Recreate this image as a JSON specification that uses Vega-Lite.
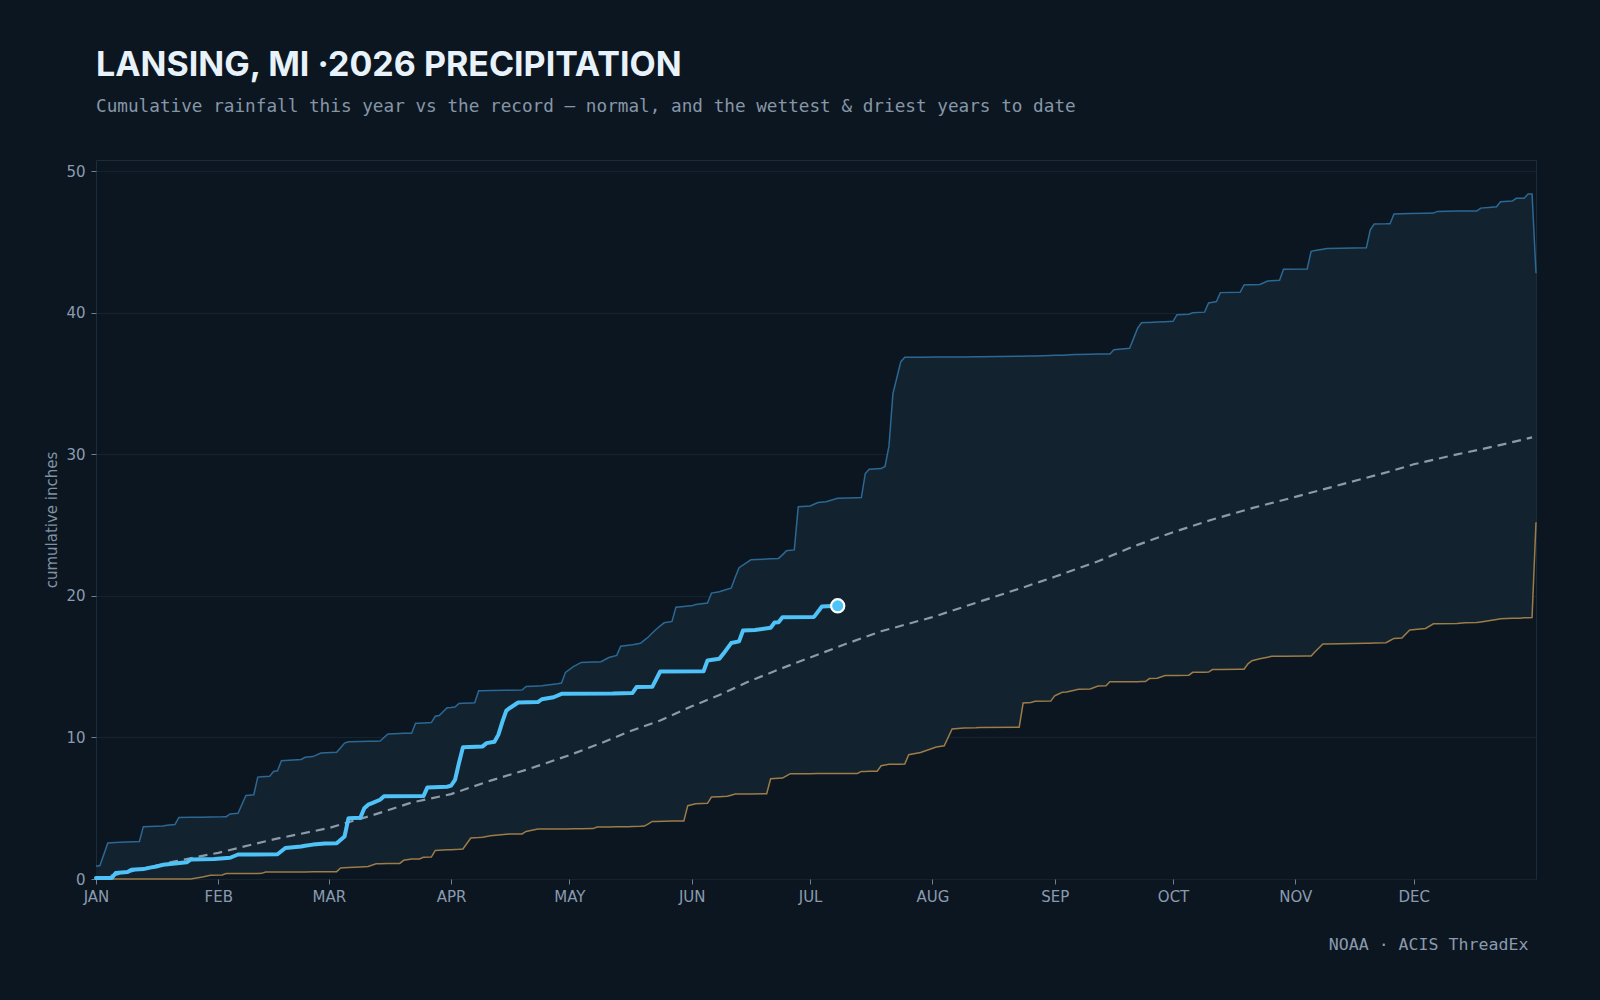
{
  "$schema": "https://vega.github.io/schema/vega-lite/v6.json",
  "autosize": "none",
  "width": 1440,
  "height": 719,
  "padding": {"left": 96, "top": 160, "right": 64, "bottom": 121},
  "background": "#0c1620",
  "title": {
    "text": "LANSING, MI ·2026 PRECIPITATION",
    "subtitle": "Cumulative rainfall this year vs the record — normal, and the wettest & driest years to date",
    "anchor": "start",
    "frame": "group",
    "offset": 44,
    "font": "Inter",
    "fontSize": 34,
    "fontWeight": 700,
    "color": "#e8f2fa",
    "subtitleFont": "DejaVu Sans Mono",
    "subtitleFontSize": 17.7,
    "subtitleColor": "#8696a8",
    "subtitlePadding": 15
  },
  "datasets": {
    "band": [
      {"day":0,"wet":0.9,"dry":0},{"day":1,"wet":0.95,"dry":0},{"day":3,"wet":2.55,"dry":0},{"day":6,"wet":2.6,"dry":0},
      {"day":11,"wet":2.65,"dry":0},{"day":12,"wet":3.7,"dry":0},{"day":17,"wet":3.75,"dry":0},{"day":18,"wet":3.8,"dry":0},
      {"day":20,"wet":3.85,"dry":0},{"day":21,"wet":4.35,"dry":0},{"day":24,"wet":4.36,"dry":0},{"day":27,"wet":4.37,"dry":0.14},
      {"day":29,"wet":4.38,"dry":0.26},{"day":32,"wet":4.39,"dry":0.28},{"day":33,"wet":4.4,"dry":0.38},{"day":34,"wet":4.6,"dry":0.38},
      {"day":36,"wet":4.65,"dry":0.38},{"day":38,"wet":5.9,"dry":0.39},{"day":40,"wet":5.95,"dry":0.39},{"day":41,"wet":7.2,"dry":0.39},
      {"day":42,"wet":7.22,"dry":0.4},{"day":43,"wet":7.24,"dry":0.5},{"day":44,"wet":7.25,"dry":0.5},{"day":45,"wet":7.6,"dry":0.5},
      {"day":46,"wet":7.65,"dry":0.5},{"day":47,"wet":8.35,"dry":0.5},{"day":52,"wet":8.45,"dry":0.5},{"day":53,"wet":8.6,"dry":0.5},
      {"day":55,"wet":8.65,"dry":0.51},{"day":57,"wet":8.9,"dry":0.51},{"day":61,"wet":8.95,"dry":0.52},{"day":62,"wet":9.27,"dry":0.78},
      {"day":63,"wet":9.6,"dry":0.8},{"day":64,"wet":9.7,"dry":0.81},{"day":67,"wet":9.72,"dry":0.85},{"day":69,"wet":9.73,"dry":0.88},
      {"day":71,"wet":9.74,"dry":1.08},{"day":72,"wet":9.75,"dry":1.08},{"day":74,"wet":10.25,"dry":1.09},{"day":77,"wet":10.28,"dry":1.1},
      {"day":78,"wet":10.29,"dry":1.32},{"day":80,"wet":10.3,"dry":1.41},{"day":81,"wet":11.0,"dry":1.41},{"day":82,"wet":11.01,"dry":1.42},
      {"day":83,"wet":11.03,"dry":1.53},{"day":85,"wet":11.05,"dry":1.55},{"day":86,"wet":11.5,"dry":2.02},{"day":87,"wet":11.55,"dry":2.03},
      {"day":89,"wet":12.1,"dry":2.06},{"day":90,"wet":12.12,"dry":2.07},{"day":91,"wet":12.15,"dry":2.09},{"day":92,"wet":12.4,"dry":2.1},
      {"day":93,"wet":12.41,"dry":2.12},{"day":95,"wet":12.44,"dry":2.9},{"day":96,"wet":12.45,"dry":2.92},{"day":97,"wet":13.3,"dry":2.93},
      {"day":98,"wet":13.3,"dry":2.95},{"day":100,"wet":13.31,"dry":3.06},{"day":104,"wet":13.33,"dry":3.17},{"day":108,"wet":13.35,"dry":3.18},
      {"day":109,"wet":13.6,"dry":3.36},{"day":112,"wet":13.64,"dry":3.53},{"day":113,"wet":13.65,"dry":3.53},{"day":117,"wet":13.8,"dry":3.54},
      {"day":118,"wet":13.85,"dry":3.54},{"day":119,"wet":14.6,"dry":3.54},{"day":121,"wet":15.0,"dry":3.55},{"day":123,"wet":15.3,"dry":3.55},
      {"day":126,"wet":15.33,"dry":3.56},{"day":127,"wet":15.34,"dry":3.67},{"day":128,"wet":15.35,"dry":3.67},{"day":130,"wet":15.65,"dry":3.68},
      {"day":132,"wet":15.8,"dry":3.69},{"day":133,"wet":16.45,"dry":3.69},{"day":135,"wet":16.52,"dry":3.7},{"day":136,"wet":16.55,"dry":3.71},
      {"day":138,"wet":16.65,"dry":3.72},{"day":139,"wet":16.88,"dry":3.74},{"day":140,"wet":17.1,"dry":3.9},{"day":141,"wet":17.38,"dry":4.07},
      {"day":142,"wet":17.65,"dry":4.07},{"day":144,"wet":18.1,"dry":4.08},{"day":146,"wet":18.2,"dry":4.09},{"day":147,"wet":19.2,"dry":4.09},
      {"day":149,"wet":19.25,"dry":4.1},{"day":150,"wet":19.28,"dry":5.18},{"day":151,"wet":19.3,"dry":5.25},{"day":152,"wet":19.4,"dry":5.32},
      {"day":155,"wet":19.5,"dry":5.35},{"day":156,"wet":20.2,"dry":5.79},{"day":158,"wet":20.3,"dry":5.81},{"day":160,"wet":20.47,"dry":5.84},
      {"day":161,"wet":20.55,"dry":5.92},{"day":162,"wet":21.3,"dry":6.0},{"day":163,"wet":22.0,"dry":6.0},{"day":166,"wet":22.55,"dry":6.01},
      {"day":170,"wet":22.61,"dry":6.02},{"day":171,"wet":22.62,"dry":7.08},{"day":173,"wet":22.65,"dry":7.11},{"day":174,"wet":22.9,"dry":7.13},
      {"day":175,"wet":23.2,"dry":7.29},{"day":176,"wet":23.22,"dry":7.44},{"day":177,"wet":23.25,"dry":7.44},{"day":178,"wet":26.3,"dry":7.44},
      {"day":181,"wet":26.35,"dry":7.44},{"day":183,"wet":26.6,"dry":7.45},{"day":185,"wet":26.65,"dry":7.45},{"day":188,"wet":26.9,"dry":7.45},
      {"day":193,"wet":26.94,"dry":7.46},{"day":194,"wet":26.95,"dry":7.6},{"day":195,"wet":28.65,"dry":7.6},{"day":196,"wet":28.95,"dry":7.61},
      {"day":198,"wet":28.98,"dry":7.62},{"day":199,"wet":29.0,"dry":8.0},{"day":200,"wet":29.15,"dry":8.05},{"day":201,"wet":30.6,"dry":8.1},
      {"day":202,"wet":34.3,"dry":8.1},{"day":204,"wet":36.55,"dry":8.11},{"day":205,"wet":36.86,"dry":8.12},{"day":206,"wet":36.86,"dry":8.78},
      {"day":209,"wet":36.87,"dry":8.94},{"day":213,"wet":36.88,"dry":9.32},{"day":215,"wet":36.88,"dry":9.41},{"day":217,"wet":36.89,"dry":10.6},
      {"day":220,"wet":36.89,"dry":10.66},{"day":223,"wet":36.9,"dry":10.68},{"day":224,"wet":36.9,"dry":10.7},{"day":234,"wet":36.94,"dry":10.72},
      {"day":235,"wet":36.94,"dry":12.43},{"day":236,"wet":36.95,"dry":12.45},{"day":237,"wet":36.96,"dry":12.47},{"day":238,"wet":36.96,"dry":12.55},
      {"day":242,"wet":36.99,"dry":12.57},{"day":243,"wet":37.0,"dry":12.94},{"day":244,"wet":37.0,"dry":13.07},{"day":245,"wet":37.01,"dry":13.2},
      {"day":246,"wet":37.03,"dry":13.22},{"day":248,"wet":37.06,"dry":13.34},{"day":249,"wet":37.06,"dry":13.41},{"day":252,"wet":37.08,"dry":13.43},
      {"day":254,"wet":37.09,"dry":13.63},{"day":256,"wet":37.09,"dry":13.65},{"day":257,"wet":37.1,"dry":13.93},{"day":258,"wet":37.4,"dry":13.93},
      {"day":262,"wet":37.5,"dry":13.94},{"day":264,"wet":38.9,"dry":13.94},{"day":265,"wet":39.3,"dry":13.95},{"day":266,"wet":39.31,"dry":13.95},
      {"day":267,"wet":39.32,"dry":14.16},{"day":269,"wet":39.35,"dry":14.18},{"day":271,"wet":39.38,"dry":14.37},{"day":273,"wet":39.4,"dry":14.38},
      {"day":274,"wet":39.87,"dry":14.38},{"day":277,"wet":39.9,"dry":14.4},{"day":278,"wet":40.0,"dry":14.6},{"day":281,"wet":40.05,"dry":14.61},
      {"day":282,"wet":40.7,"dry":14.62},{"day":283,"wet":40.75,"dry":14.8},{"day":284,"wet":40.8,"dry":14.8},{"day":285,"wet":41.43,"dry":14.8},
      {"day":290,"wet":41.45,"dry":14.82},{"day":291,"wet":41.97,"dry":14.82},{"day":292,"wet":41.98,"dry":15.2},{"day":293,"wet":41.99,"dry":15.42},
      {"day":295,"wet":42.0,"dry":15.56},{"day":297,"wet":42.25,"dry":15.67},{"day":298,"wet":42.27,"dry":15.73},{"day":300,"wet":42.3,"dry":15.73},
      {"day":301,"wet":43.08,"dry":15.73},{"day":307,"wet":43.1,"dry":15.75},{"day":308,"wet":44.35,"dry":15.75},{"day":309,"wet":44.4,"dry":16.06},
      {"day":311,"wet":44.5,"dry":16.6},{"day":312,"wet":44.55,"dry":16.6},{"day":322,"wet":44.6,"dry":16.66},{"day":323,"wet":45.86,"dry":16.66},
      {"day":324,"wet":46.28,"dry":16.67},{"day":327,"wet":46.29,"dry":16.7},{"day":328,"wet":46.3,"dry":16.85},{"day":329,"wet":46.98,"dry":17.0},
      {"day":331,"wet":47.0,"dry":17.02},{"day":333,"wet":47.02,"dry":17.6},{"day":337,"wet":47.04,"dry":17.7},{"day":339,"wet":47.05,"dry":18.03},
      {"day":340,"wet":47.17,"dry":18.03},{"day":345,"wet":47.19,"dry":18.05},{"day":347,"wet":47.2,"dry":18.1},{"day":350,"wet":47.2,"dry":18.12},
      {"day":351,"wet":47.4,"dry":18.16},{"day":353,"wet":47.45,"dry":18.24},{"day":355,"wet":47.5,"dry":18.33},{"day":356,"wet":47.85,"dry":18.38},
      {"day":359,"wet":47.9,"dry":18.42},{"day":360,"wet":48.09,"dry":18.42},{"day":361,"wet":48.1,"dry":18.43},{"day":362,"wet":48.1,"dry":18.45},
      {"day":363,"wet":48.4,"dry":18.46},{"day":364,"wet":48.4,"dry":18.48},{"day":365,"wet":42.8,"dry":25.2}
    ],
    "normal": [
      {"day":0,"normal":0.0},{"day":10,"normal":0.6},{"day":20,"normal":1.25},{"day":31,"normal":1.85},{"day":45,"normal":2.8},
      {"day":59,"normal":3.6},{"day":70,"normal":4.5},{"day":80,"normal":5.4},{"day":90,"normal":6.0},{"day":100,"normal":6.95},
      {"day":110,"normal":7.8},{"day":120,"normal":8.75},{"day":128,"normal":9.6},{"day":135,"normal":10.4},{"day":143,"normal":11.2},
      {"day":151,"normal":12.2},{"day":158,"normal":13.0},{"day":165,"normal":13.9},{"day":173,"normal":14.8},{"day":181,"normal":15.65},
      {"day":190,"normal":16.6},{"day":199,"normal":17.5},{"day":212,"normal":18.5},{"day":224,"normal":19.6},{"day":235,"normal":20.6},
      {"day":243,"normal":21.35},{"day":254,"normal":22.45},{"day":263,"normal":23.5},{"day":273,"normal":24.5},{"day":283,"normal":25.4},
      {"day":293,"normal":26.2},{"day":304,"normal":27.0},{"day":316,"normal":27.9},{"day":328,"normal":28.8},{"day":334,"normal":29.3},
      {"day":345,"normal":30.0},{"day":355,"normal":30.6},{"day":364,"normal":31.2}
    ],
    "current": [
      {"day":0,"cur":0.07},{"day":4,"cur":0.07},{"day":5,"cur":0.42},{"day":8,"cur":0.5},{"day":9,"cur":0.66},{"day":12,"cur":0.7},
      {"day":14,"cur":0.82},{"day":15,"cur":0.87},{"day":17,"cur":1.0},{"day":20,"cur":1.1},{"day":23,"cur":1.18},{"day":24,"cur":1.37},
      {"day":30,"cur":1.42},{"day":34,"cur":1.5},{"day":36,"cur":1.73},{"day":46,"cur":1.75},{"day":48,"cur":2.19},{"day":52,"cur":2.3},
      {"day":53,"cur":2.35},{"day":55,"cur":2.43},{"day":58,"cur":2.5},{"day":61,"cur":2.52},{"day":63,"cur":3.0},{"day":64,"cur":4.3},
      {"day":67,"cur":4.32},{"day":68,"cur":5.0},{"day":69,"cur":5.25},{"day":70,"cur":5.36},{"day":72,"cur":5.6},{"day":73,"cur":5.84},
      {"day":83,"cur":5.86},{"day":84,"cur":6.47},{"day":89,"cur":6.52},{"day":90,"cur":6.6},{"day":91,"cur":7.0},{"day":92,"cur":8.2},
      {"day":93,"cur":9.3},{"day":98,"cur":9.37},{"day":99,"cur":9.6},{"day":101,"cur":9.7},{"day":102,"cur":10.2},{"day":103,"cur":11.1},
      {"day":104,"cur":11.9},{"day":105,"cur":12.1},{"day":107,"cur":12.47},{"day":112,"cur":12.5},{"day":113,"cur":12.7},{"day":116,"cur":12.84},
      {"day":118,"cur":13.08},{"day":131,"cur":13.1},{"day":136,"cur":13.15},{"day":137,"cur":13.56},{"day":141,"cur":13.58},{"day":143,"cur":14.66},
      {"day":154,"cur":14.68},{"day":155,"cur":15.44},{"day":158,"cur":15.56},{"day":159,"cur":15.91},{"day":161,"cur":16.67},{"day":163,"cur":16.79},
      {"day":164,"cur":17.56},{"day":167,"cur":17.6},{"day":171,"cur":17.75},{"day":172,"cur":18.12},{"day":173,"cur":18.14},{"day":174,"cur":18.5},
      {"day":182,"cur":18.52},{"day":184,"cur":19.25},{"day":188,"cur":19.3}
    ],
    "today": [{"day":188,"cur":19.3}]
  },
  "encoding": {
    "x": {
      "field": "day",
      "type": "quantitative",
      "scale": {"domain": [0, 365], "nice": false, "zero": false},
      "axis": {
        "title": "NOAA · ACIS ThreadEx",
        "titleFont": "DejaVu Sans Mono",
        "titleFontSize": 16.6,
        "titleFontWeight": "normal",
        "titleColor": "#8a9aae",
        "titleAlign": "right",
        "titleAnchor": "end",
        "titleBaseline": "alphabetic",
        "titleX": 1432,
        "titleY": 70,
        "values": [0,31,59,90,120,151,181,212,243,273,304,334],
        "labelExpr": "['JAN','FEB','MAR','APR','MAY','JUN','JUL','AUG','SEP','OCT','NOV','DEC'][indexof([0,31,59,90,120,151,181,212,243,273,304,334], datum.value)]",
        "labelFlush": false,
        "labelPadding": 5,
        "grid": false
      }
    }
  },
  "layer": [
    {
      "data": {"name": "band"},
      "mark": {"type": "area", "color": "#12222f", "opacity": 1},
      "encoding": {
        "y": {
          "field": "wet",
          "type": "quantitative",
          "scale": {"domain": [0, 50.8], "nice": false, "zero": true},
          "axis": {"title": "cumulative inches", "values": [0,10,20,30,40,50], "grid": true, "labelPadding": 6, "titlePadding": 6, "titleFontSize": 15}
        },
        "y2": {"field": "dry"}
      }
    },
    {
      "data": {"name": "band"},
      "mark": {"type": "line", "color": "#2c6894", "strokeWidth": 1.5},
      "encoding": {"y": {"field": "wet", "type": "quantitative", "title": "cumulative inches"}}
    },
    {
      "data": {"name": "band"},
      "mark": {"type": "line", "color": "#9c7c48", "strokeWidth": 1.5},
      "encoding": {"y": {"field": "dry", "type": "quantitative", "title": "cumulative inches"}}
    },
    {
      "data": {"name": "normal"},
      "mark": {"type": "line", "color": "#8d9aa8", "strokeWidth": 2.2, "strokeDash": [9, 6]},
      "encoding": {"y": {"field": "normal", "type": "quantitative", "title": "cumulative inches"}}
    },
    {
      "data": {"name": "current"},
      "mark": {"type": "line", "color": "#4fc2f7", "strokeWidth": 4, "strokeJoin": "round", "strokeCap": "round"},
      "encoding": {"y": {"field": "cur", "type": "quantitative", "title": "cumulative inches"}}
    },
    {
      "data": {"name": "today"},
      "mark": {"type": "point", "filled": true, "fill": "#4fc2f7", "stroke": "#ffffff", "strokeWidth": 2.2, "size": 175, "opacity": 1},
      "encoding": {"y": {"field": "cur", "type": "quantitative", "title": "cumulative inches"}}
    }
  ],
  "config": {
    "view": {"stroke": "#1b2d3d", "strokeWidth": 1},
    "axis": {
      "domain": false,
      "labelFont": "DejaVu Sans",
      "labelFontSize": 15,
      "labelColor": "#8a9bb0",
      "tickColor": "#6f8091",
      "tickSize": 5,
      "gridColor": "#15232f",
      "gridWidth": 1,
      "titleFont": "DejaVu Sans",
      "titleFontSize": 14,
      "titleFontWeight": "normal",
      "titleColor": "#8092a5"
    }
  }
}
